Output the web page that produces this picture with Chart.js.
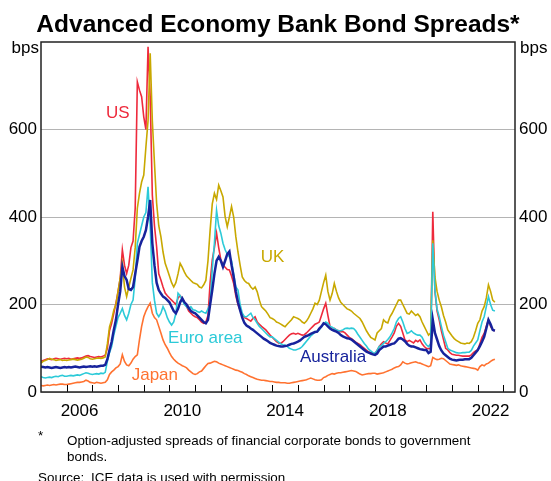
<!DOCTYPE html>
<html>
<head>
<meta charset="utf-8">
<script src="https://cdn.jsdelivr.net/npm/chart.js@4/dist/chart.umd.min.js"></script>
<style>
  body { margin: 0; background: #fff; }
  canvas { display: block; }
</style>
</head>
<body>
<canvas id="spreads" width="551" height="481"></canvas>
<script>
// monthly observations, Jan 2005 to Sep 2022 (bps)
const startYear = 2005;

const usSpread = [
  70, 72, 74, 76, 75, 74, 76, 77, 76, 75, 76, 77,
  76, 77, 75, 76, 77, 78, 77, 78, 80, 82, 83, 81,
  80, 79, 80, 81, 80, 82, 84, 100, 140, 157, 180, 203,
  230, 260, 325, 290, 271, 290, 330, 345, 420, 709, 690, 675,
  629, 600, 789, 675, 450, 380, 332, 270, 256, 240, 226, 220,
  215, 210, 205, 200, 215, 220, 214, 205, 195, 185, 180, 175,
  172, 170, 165, 160, 157, 160, 175, 250, 302, 330, 363, 330,
  302, 290, 285, 280, 279, 265, 248, 220, 200, 187, 178, 170,
  168, 165, 162, 168, 172, 160, 155, 150, 146, 142, 136, 130,
  125, 120, 115, 112, 111, 115, 120, 125, 130, 133, 134, 132,
  134, 132, 130, 131, 135, 140, 145, 150, 155, 157, 160, 175,
  190, 203, 175, 150, 142, 145, 142, 140, 138, 138, 135, 130,
  125, 122, 118, 114, 111, 108, 104, 100, 96, 92, 90, 88,
  88, 95, 104, 110, 115, 112, 110, 118, 126, 135, 150, 157,
  150, 135, 119, 115, 118, 115, 112, 118, 115, 119, 110, 104,
  100, 99, 100, 412, 230, 185, 165, 140, 120, 100, 96, 90,
  86, 85, 84, 84, 83, 82, 82, 82, 82, 85, 90, 94,
  96, 110, 125, 134, 150, 165, 150, 142, 140
];

const ukSpread = [
  66, 70, 72, 74, 77, 75, 74, 72, 73, 74, 72, 73,
  72, 73, 74, 75, 74, 73, 74, 75, 77, 80, 79, 76,
  75, 76, 77, 78, 77, 78, 80, 110, 149, 165, 187, 200,
  230, 260, 294, 240, 218, 240, 260, 279, 330, 420, 454, 480,
  496, 560, 620, 774, 620, 523, 432, 380, 355, 320, 294, 280,
  265, 250, 240, 250, 270, 294, 285, 274, 265, 260, 255, 250,
  248, 246, 240, 238, 245, 255, 300, 370, 430, 454, 440, 473,
  460, 446, 401, 378, 400, 424, 400, 355, 320, 290, 263, 255,
  250, 248, 240, 235, 240, 229, 210, 195, 190, 185, 178, 170,
  168, 165, 160, 158, 155, 152, 149, 155, 160, 165, 172, 170,
  168, 165, 160, 157, 162, 170, 180, 190, 203, 200, 210, 230,
  250, 267, 230, 210, 225, 248, 230, 215, 205, 200, 195, 190,
  188, 185, 180, 176, 172, 168, 160, 150, 140, 132, 125, 122,
  119, 135, 140, 145, 165, 160, 158, 172, 180, 190, 200, 210,
  210, 200, 190, 180, 178, 185, 180, 175, 178, 172, 160, 150,
  140, 130, 135, 347, 263, 230, 210, 195, 175, 160, 142, 135,
  128, 122, 118, 115, 112, 111, 110, 112, 111, 115, 125, 140,
  157, 165, 185, 195, 215, 245, 230, 210, 205
];

const euroSpread = [
  35, 33, 32, 33, 34, 33, 35, 36, 35, 37, 38, 36,
  36, 37, 38, 37, 38, 39, 38, 40, 42, 44, 43, 41,
  40, 41, 42, 41, 43, 42, 45, 70, 90, 104, 130, 150,
  170, 180, 191, 175, 165, 180, 200, 210, 260, 340, 360, 380,
  400, 410, 469, 380, 250, 210, 180, 172, 180, 195, 185, 170,
  160, 153, 160, 180, 226, 220, 210, 200, 195, 190, 195, 188,
  187, 184, 182, 185, 182, 180, 190, 200, 280, 340, 415, 380,
  363, 340, 325, 315, 309, 300, 270, 240, 233, 200, 180, 172,
  172, 176, 180, 170, 165, 157, 150, 145, 140, 135, 130, 126,
  126, 122, 118, 114, 110, 108, 107, 104, 100, 98, 96, 96,
  98, 100, 104, 110, 116, 122, 128, 132, 138, 138, 142, 150,
  155, 160, 157, 150, 148, 145, 142, 140, 140, 142, 145, 146,
  145, 146, 145, 140, 132, 125, 118, 111, 105, 98, 94, 90,
  88, 95, 104, 106, 111, 115, 120, 126, 135, 145, 160, 168,
  172, 160, 145, 134, 136, 140, 135, 132, 130, 130, 125, 115,
  108, 104, 110, 340, 233, 190, 172, 150, 130, 115, 100, 96,
  94, 92, 90, 89, 89, 90, 90, 91, 91, 95, 105, 112,
  119, 140, 160, 172, 195, 218, 200, 187, 185
];

const ausSpread = [
  58, 57, 56, 57, 56, 55, 56, 57, 56, 55, 56, 57,
  56, 57, 56, 57, 58, 57, 56, 57, 58, 57, 58, 59,
  58, 59, 58, 59, 60, 60, 62, 75, 96, 115, 142, 165,
  200, 230, 286, 265, 256, 235, 233, 240, 270, 300, 332, 345,
  355, 370, 400, 439, 340, 290, 250, 233, 225, 218, 215, 210,
  205, 195, 185, 180, 190, 205, 214, 205, 200, 192, 185, 182,
  180, 175, 170, 165, 160, 157, 165, 200, 233, 270, 300, 309,
  300, 286, 300, 315, 321, 290, 263, 230, 205, 187, 170, 158,
  152, 149, 145, 142, 138, 134, 130, 126, 122, 119, 116, 112,
  110, 108, 106, 105, 104, 104, 105, 106, 108, 110, 111, 113,
  115, 118, 122, 126, 128, 130, 133, 135, 137, 138, 145, 150,
  157, 155, 150, 145, 142, 140, 138, 135, 130, 127, 125, 123,
  122, 120, 116, 112, 108, 104, 100, 96, 92, 90, 88, 86,
  85, 88, 96, 100, 104, 104, 106, 108, 110, 111, 116, 122,
  123, 120, 116, 110, 106, 104, 104, 102, 100, 98, 97, 96,
  96, 89, 92, 165, 135, 120, 105, 95, 88, 84, 80, 76,
  74, 73, 72, 73, 74, 74, 75, 75, 75, 78, 84, 90,
  96, 105, 115, 126, 145, 165, 155, 142, 140
];

const japanSpread = [
  15, 14, 15, 16, 15, 16, 17, 16, 17, 18, 18, 17,
  17, 18, 19, 20, 21, 22, 22, 23, 24, 27, 25, 22,
  21, 20, 22, 21, 20, 21, 22, 28, 40, 46, 50, 55,
  58, 64, 85, 70, 62, 60, 66, 75, 81, 85, 120, 150,
  172, 185, 195, 203, 180, 170, 165, 150, 135, 119, 108, 100,
  90, 81, 75, 70, 66, 63, 60, 58, 55, 50, 46, 42,
  40, 42, 46, 48, 54, 60, 65, 66, 68, 70, 69, 66,
  64, 62, 60, 58, 56, 54, 52, 50, 49, 47, 45, 42,
  40, 37, 35, 33, 31, 29, 28, 27, 27, 26, 25, 24,
  24, 23, 22, 22, 21, 21, 21, 20, 20, 21, 22, 23,
  24, 25, 26, 27, 28, 30, 32, 30, 28, 27, 27, 28,
  33, 35, 38, 40, 42, 41, 43, 44, 44, 45, 46, 47,
  48, 49, 48, 47, 44, 41, 39, 40, 41, 42, 42, 43,
  43, 41, 42, 43, 44, 46, 48, 50, 52, 55, 57, 58,
  62, 69, 66, 64, 65, 67, 68, 69, 67, 66, 64, 62,
  60, 58, 60, 79, 76, 74, 75, 77, 76, 72, 68, 64,
  63, 62, 61, 62, 60, 59, 58, 57, 56, 55, 54, 53,
  50, 58, 62, 60, 64, 66, 70, 73, 75
];

const yearLabels = [2006, 2010, 2014, 2018, 2022];
const yTicks = [0, 200, 400, 600];

// series labels placed next to their lines: [text, year, bps]
const seriesTags = [
  ["US", 2007.53, 637],
  ["UK", 2013.55, 308],
  ["Euro area", 2009.94, 123],
  ["Australia", 2015.08, 80],
  ["Japan", 2008.53, 38]
];

const colors = {
  us: "#ee2a3c",
  uk: "#c8a800",
  euro: "#2ccad8",
  aus: "#17239c",
  japan: "#ff7230"
};

const months = usSpread.map((v, i) => startYear + i / 12);
const toPoints = (vals) => vals.map((v, i) => ({ x: months[i], y: v }));

function makeSet(label, vals, color, width) {
  return {
    label: label,
    data: toPoints(vals),
    borderColor: color,
    borderWidth: width,
    pointRadius: 0,
    tension: 0,
    fill: false
  };
}

const FONT = "Arial, 'Liberation Sans', sans-serif";

// title, footnotes, inside tick marks, frame and line labels
const decorPlugin = {
  id: "decor",
  afterDraw(chart) {
    const { ctx, chartArea: a, scales } = chart;
    ctx.save();

    ctx.fillStyle = "#000";
    ctx.textBaseline = "alphabetic";
    ctx.textAlign = "center";
    ctx.font = "bold 24.5px " + FONT;
    ctx.fillText("Advanced Economy Bank Bond Spreads*", 278, 32);

    ctx.font = "17px " + FONT;
    ctx.textAlign = "right";
    ctx.fillText("bps", 39, 53);
    ctx.textAlign = "left";
    ctx.fillText("bps", 520, 53);

    // year tick marks, pointing into the plot
    ctx.strokeStyle = "#000";
    ctx.lineWidth = 1;
    ctx.beginPath();
    for (let yr = startYear + 1; yr <= 2023; yr++) {
      const x = Math.round(scales.x.getPixelForValue(yr)) + 0.5;
      ctx.moveTo(x, a.bottom);
      ctx.lineTo(x, a.bottom - 7);
    }
    ctx.stroke();

    // frame
    ctx.lineWidth = 1.5;
    ctx.strokeStyle = "#222";
    ctx.strokeRect(a.left, a.top, a.right - a.left, a.bottom - a.top);

    // line labels
    ctx.font = "17px " + FONT;
    ctx.textAlign = "left";
    ctx.textBaseline = "middle";
    const tagColors = [colors.us, colors.uk, colors.euro, colors.aus, colors.japan];
    seriesTags.forEach(([txt, t, v], i) => {
      ctx.fillStyle = tagColors[i];
      ctx.fillText(txt, scales.x.getPixelForValue(t), scales.y.getPixelForValue(v));
    });

    // footnotes
    ctx.fillStyle = "#000";
    ctx.textBaseline = "alphabetic";
    ctx.font = "13.4px " + FONT;
    ctx.fillText("*", 38, 440);
    ctx.fillText("Option-adjusted spreads of financial corporate bonds to government", 67, 445);
    ctx.fillText("bonds.", 67, 461);
    ctx.fillText("Source:", 38, 482);
    ctx.fillText("ICE data is used with permission", 91, 482);

    ctx.restore();
  }
};

const ctx = document.getElementById("spreads").getContext("2d");

new Chart(ctx, {
  type: "line",
  data: {
    datasets: [
      makeSet("Australia", ausSpread, colors.aus, 2.5),
      makeSet("Japan", japanSpread, colors.japan, 1.6),
      makeSet("Euro area", euroSpread, colors.euro, 1.6),
      makeSet("UK", ukSpread, colors.uk, 1.6),
      makeSet("US", usSpread, colors.us, 1.6)
    ]
  },
  options: {
    responsive: false,
    animation: false,
    layout: { padding: { top: 42, bottom: 49, left: 0, right: 0 } },
    plugins: {
      legend: { display: false },
      title: { display: false },
      tooltip: { enabled: false }
    },
    scales: {
      x: {
        type: "linear",
        min: startYear,
        max: 2023.45,
        grid: { display: false, drawTicks: false },
        border: { display: false },
        afterBuildTicks: (axis) => {
          axis.ticks = yearLabels.map((y) => ({ value: y + 0.5 }));
        },
        afterFit: (axis) => { axis.height = 40; },
        ticks: {
          maxRotation: 0,
          padding: 9,
          color: "#000",
          font: { family: FONT, size: 17 },
          callback: (v) => String(Math.floor(v))
        }
      },
      y: {
        position: "left",
        min: 0,
        max: 800,
        afterBuildTicks: (axis) => {
          axis.ticks = yTicks.map((v) => ({ value: v }));
        },
        afterFit: (axis) => { axis.width = 41; },
        grid: { color: "#b4b4b4", lineWidth: 1, drawTicks: false },
        border: { display: false },
        ticks: {
          padding: 4,
          color: "#000",
          font: { family: FONT, size: 17 }
        }
      },
      y2: {
        position: "right",
        min: 0,
        max: 800,
        afterBuildTicks: (axis) => {
          axis.ticks = yTicks.map((v) => ({ value: v }));
        },
        afterFit: (axis) => { axis.width = 36; },
        grid: { display: false, drawTicks: false },
        border: { display: false },
        ticks: {
          padding: 4,
          color: "#000",
          font: { family: FONT, size: 17 }
        }
      }
    }
  },
  plugins: [decorPlugin]
});
</script>
</body>
</html>
